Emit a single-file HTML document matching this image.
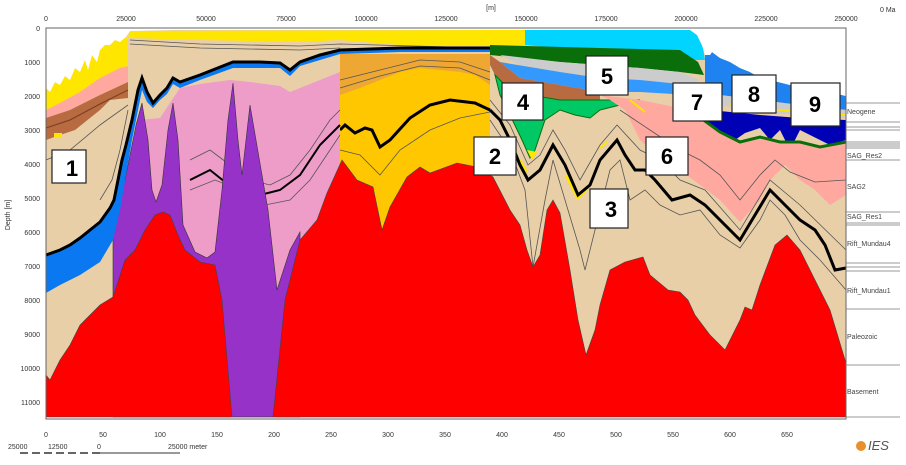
<!DOCTYPE html>
<html><head><meta charset="utf-8"><style>
html,body{margin:0;padding:0;background:#fff;}
svg{display:block;font-family:"Liberation Sans",sans-serif;}
.box{fill:#fff;stroke:#222;stroke-width:1.2;}
.num{font-weight:bold;font-size:22px;fill:#000;text-anchor:middle;}
.ax{font-size:7px;fill:#333;}
.lg{font-size:7px;fill:#444;}
.thin{fill:none;stroke:#555;stroke-width:0.8;}
</style></head><body>
<svg width="906" height="465" viewBox="0 0 906 465">
<rect x="0" y="0" width="906" height="465" fill="#fff"/>
<rect x="46" y="28" width="800" height="389" fill="#e8cfa8"/>
<polygon points="340,54 490,54 490,200 340,200" fill="#eea732"/>
<polygon points="340,95 360,88 380,80 400,72 420,68 440,70 460,72 475,75 490,85 490,230 340,230" fill="#ffc700"/>
<polyline class="thin" points="340,80 380,70 420,60 460,62 490,72"/>
<polyline class="thin" points="340,88 380,76 420,66 460,68 490,80"/>
<polyline class="thin" points="340,150 360,155 380,175 400,150 430,130 460,118 490,112"/>
<polyline points="340,130 345,125 355,133 365,128 372,130 380,147 390,140 410,118 430,105 450,100 475,103 490,110" fill="none" stroke="#000" stroke-width="3"/>
<polygon points="113,230 125,190 135,140 140,120 160,118 180,88 200,84 230,80 250,82 280,86 290,92 300,88 320,80 340,72 340,417 113,417" fill="#ee9cc8"/>
<polyline class="thin" points="190,160 210,150 230,165 250,180 270,185 290,175 310,150 330,120 340,110"/>
<polyline points="190,180 210,170 225,182 240,175 260,195 280,190 300,175 320,145 340,125" fill="none" stroke="#000" stroke-width="2"/>
<polyline class="thin" points="190,190 215,180 240,190 265,205 290,200 310,180 330,150 340,135"/>
<polygon points="113,300 113,225 125,180 136,125 142,103 148,140 152,190 156,202 162,185 168,130 173,103 178,140 183,225 195,252 207,258 215,252 222,190 228,120 233,83 238,140 242,175 246,140 250,105 256,140 262,175 268,210 277,290 290,250 300,232 300,417 113,417" fill="#9632c8" stroke="#333" stroke-width="0.6"/>
<polygon points="46,88 50,92 55,82 60,85 65,76 70,80 75,68 80,72 85,60 88,70 92,55 97,62 100,50 105,45 110,45 115,40 120,42 126,37 128,37 128,66 120,68 100,78 80,92 60,103 46,110" fill="#ffe600"/>
<polygon points="46,110 60,103 80,92 100,78 120,68 128,66 128,82 100,95 70,110 46,118" fill="#ffa8a0"/>
<polygon points="46,118 70,110 100,95 128,82 128,98 110,100 100,110 90,118 75,130 60,135 46,140" fill="#b86a40"/>
<polyline points="46,128 70,120 100,104 128,90" fill="none" stroke="#7a3e20" stroke-width="1"/>
<rect x="54" y="133" width="8" height="5" fill="#ffe600"/>
<polyline class="thin" points="46,160 70,150 100,125 128,105"/>
<polyline class="thin" points="100,200 112,180 120,150 128,110"/>
<polygon points="128,37 130,31 525,30 525,50 490,45 400,45 340,40 300,42 200,40 130,38" fill="#ffe600"/>
<polyline class="thin" points="130,40 200,44 300,46 340,44 490,48"/>
<polyline class="thin" points="130,44 200,48 300,50 340,48"/>
<polygon points="46,255 60,250 70,245 80,238 100,222 110,208 114,200 118,180 122,160 126,145 132,120 138,90 142,78 147,92 153,103 160,95 167,88 173,78 180,82 200,75 233,62 260,62 280,63 290,70 300,62 320,55 340,50 400,48 490,48 490,52 400,52 340,54 320,60 300,66 290,76 280,68 260,68 233,68 200,80 180,88 173,84 167,94 160,100 153,108 147,102 142,90 138,110 132,140 126,175 120,210 113,240 100,262 80,275 60,285 46,293" fill="#0a78f0"/>
<polyline points="46,255 60,250 70,245 80,238 100,222 110,208 114,200 118,180 122,160 126,145 132,120 138,90 142,78 147,92 153,103 160,95 167,88 173,78 180,82 200,75 233,62 260,62 280,63 290,70 300,62 320,55 340,50 400,48 490,48" fill="none" stroke="#000" stroke-width="3"/>
<polygon points="525,30 690,30 697,35 703,48 705,60 690,60 525,45" fill="#00d4ff"/>
<polygon points="490,45 600,48 680,50 698,62 704,75 680,72 640,68 600,65 560,62 520,58 490,55" fill="#0a6e0a"/>
<polygon points="500,55 560,62 640,68 680,72 700,80 690,85 640,80 600,78 560,72 520,65" fill="#cccccc"/>
<polygon points="500,62 560,72 600,78 640,80 690,85 700,90 690,95 640,92 600,92 560,85 520,78" fill="#3399ff"/>
<polygon points="490,55 500,62 520,78 560,85 600,92 600,100 560,100 530,95 510,90 495,75 490,65" fill="#b86a40"/>
<polygon points="495,75 510,90 530,95 560,100 600,100 640,100 620,105 600,110 590,118 575,115 560,110 545,120 535,150 530,158 522,140 510,115 500,95" fill="#00c864" stroke="#0a6e0a" stroke-width="1"/>
<polygon points="527,150 532,160 537,152" fill="#ffe600"/>
<polygon points="705,55 710,55 712,52 720,58 730,62 740,68 750,72 760,78 770,80 790,85 820,90 846,96 846,110 800,105 760,100 720,95 705,90" fill="#1e82f0"/>
<polygon points="720,95 760,100 800,105 846,110 846,118 800,115 760,112 720,105 705,95" fill="#cccccc"/>
<polygon points="690,100 710,110 730,112 760,115 800,118 846,120 846,140 830,145 820,140 810,135 800,130 790,150 780,130 770,140 760,128 745,133 735,140 725,135 715,130 705,120 690,110" fill="#0000b4"/>
<polyline points="730,105 760,108 800,112 846,115" fill="none" stroke="#ffe600" stroke-width="1.5"/>
<polygon points="600,95 640,100 680,108 700,115 720,132 740,142 760,137 780,142 800,142 820,147 846,142 846,195 830,205 815,190 800,180 785,165 770,180 760,200 740,222 720,200 700,185 680,170 660,158 640,140 625,110 610,100" fill="#ffa8a0"/>
<polyline points="690,110 720,132 740,142 760,137 780,142 800,142 820,147 846,142" fill="none" stroke="#0a6e0a" stroke-width="3"/>
<polyline class="thin" points="620,110 650,130 680,150 700,160 720,175 740,200 760,175 775,160 790,172 815,182 846,180"/>
<polyline class="thin" points="490,120 510,150 525,190 533,267 545,200 553,160 565,200 580,250 585,270 595,230 610,170 620,160 630,200 645,190 660,205 680,215 700,210 720,235 740,248 760,220 770,200 785,215 800,240 820,260 846,290"/>
<polyline class="thin" points="490,100 510,125 528,165 540,155 553,130 565,150 580,180 600,145 617,125 640,150 660,160 680,180 705,190 740,230 770,180 800,205 846,250"/>
<polyline points="566,175 578,198 586,190" fill="none" stroke="#ffe600" stroke-width="3"/>
<polyline points="520,160 527,172" fill="none" stroke="#ffe600" stroke-width="2"/>
<polyline points="600,148 607,142" fill="none" stroke="#ffe600" stroke-width="2"/>
<polyline points="630,100 640,108 645,112" fill="none" stroke="#ffe600" stroke-width="2"/>
<polyline points="490,110 500,120 510,140 520,165 528,180 540,170 553,145 565,165 578,195 590,185 600,160 617,140 625,155 635,170 645,170 655,180 672,200 690,195 705,205 720,220 740,240 755,215 770,190 785,205 800,220 815,230 825,245 835,270 846,268" fill="none" stroke="#000" stroke-width="3"/>
<polygon points="46,375 50,380 60,360 70,345 80,325 90,315 100,305 113,297 125,260 135,250 145,230 155,215 163,212 170,215 178,235 185,250 200,262 215,265 222,300 232,417 273,417 285,300 300,240 317,220 327,193 342,160 357,180 373,187 382,230 390,207 407,177 420,167 430,173 457,163 477,167 493,177 510,210 520,225 527,250 533,267 540,255 547,210 553,200 560,213 570,270 578,320 586,355 595,330 600,305 610,270 625,262 643,257 650,275 668,290 680,292 688,300 695,315 710,335 725,350 740,320 745,307 752,310 760,285 775,245 787,235 800,250 815,280 830,310 846,363 846,417 46,417" fill="#ff0000" stroke="#444" stroke-width="0.6"/>
<polygon points="46,28 46,88 50,92 55,82 60,85 65,76 70,80 75,68 80,72 85,60 88,70 92,55 97,62 100,50 105,45 110,45 115,40 120,42 126,37 130,31 175,30 690,30 697,35 702,45 705,55 710,55 712,52 720,58 730,62 740,68 750,72 760,78 770,80 790,85 820,90 846,96 846,28" fill="#fff"/>
<rect x="46" y="28" width="800" height="391" fill="none" stroke="#666" stroke-width="1"/>
<g class="ax" text-anchor="middle">
<text x="46" y="21">0</text><text x="126" y="21">25000</text><text x="206" y="21">50000</text><text x="286" y="21">75000</text><text x="366" y="21">100000</text><text x="446" y="21">125000</text><text x="526" y="21">150000</text><text x="606" y="21">175000</text><text x="686" y="21">200000</text><text x="766" y="21">225000</text><text x="846" y="21">250000</text>
<text x="491" y="10">[m]</text>
</g>
<text x="880" y="12" class="ax">0 Ma</text>
<g class="ax" text-anchor="end">
<text x="40" y="31">0</text><text x="40" y="65">1000</text><text x="40" y="99">2000</text><text x="40" y="133">3000</text><text x="40" y="167">4000</text><text x="40" y="201">5000</text><text x="40" y="235">6000</text><text x="40" y="269">7000</text><text x="40" y="303">8000</text><text x="40" y="337">9000</text><text x="40" y="371">10000</text><text x="40" y="405">11000</text>
</g>
<text x="10" y="215" class="ax" transform="rotate(-90 10 215)" text-anchor="middle">Depth [m]</text>
<g class="ax" text-anchor="middle">
<text x="46" y="437">0</text><text x="103" y="437">50</text><text x="160" y="437">100</text><text x="217" y="437">150</text><text x="274" y="437">200</text><text x="331" y="437">250</text><text x="388" y="437">300</text><text x="445" y="437">350</text><text x="502" y="437">400</text><text x="559" y="437">450</text><text x="616" y="437">500</text><text x="673" y="437">550</text><text x="730" y="437">600</text><text x="787" y="437">650</text>
</g>
<g class="ax"><text x="8" y="449">25000</text><text x="48" y="449">12500</text><text x="97" y="449">0</text><text x="168" y="449">25000 meter</text></g>
<line x1="20" y1="453" x2="100" y2="453" stroke="#333" stroke-width="1.5" stroke-dasharray="8,4"/>
<line x1="100" y1="453" x2="180" y2="453" stroke="#333" stroke-width="1"/>
<circle cx="861" cy="446" r="5" fill="#e8902c"/>
<text x="868" y="450" font-size="13" font-style="italic" fill="#555">IES</text>
<g stroke="#777" stroke-width="0.8">
<line x1="846" y1="103" x2="900" y2="103"/><line x1="846" y1="122" x2="900" y2="122"/><line x1="846" y1="127" x2="900" y2="127"/><line x1="846" y1="130" x2="900" y2="130"/><line x1="846" y1="142" x2="900" y2="142"/><line x1="846" y1="144" x2="900" y2="144"/><line x1="846" y1="146" x2="900" y2="146"/><line x1="846" y1="148" x2="900" y2="148"/><line x1="846" y1="160" x2="900" y2="160"/><line x1="846" y1="212" x2="900" y2="212"/><line x1="846" y1="223" x2="900" y2="223"/><line x1="846" y1="225" x2="900" y2="225"/><line x1="846" y1="263" x2="900" y2="263"/><line x1="846" y1="267" x2="900" y2="267"/><line x1="846" y1="271" x2="900" y2="271"/><line x1="846" y1="309" x2="900" y2="309"/><line x1="846" y1="365" x2="900" y2="365"/><line x1="846" y1="417" x2="900" y2="417"/>
</g>
<g class="lg">
<text x="847" y="114">Neogene</text><text x="847" y="158">SAG_Res2</text><text x="847" y="189">SAG2</text><text x="847" y="219">SAG_Res1</text><text x="847" y="246">Rift_Mundau4</text><text x="847" y="293">Rift_Mundau1</text><text x="847" y="339">Paleozoic</text><text x="847" y="394">Basement</text>
</g>
<rect class="box" x="52" y="150" width="34" height="33"/><text class="num" x="72" y="176">1</text>
<rect class="box" x="474" y="137" width="42" height="38"/><text class="num" x="495" y="164">2</text>
<rect class="box" x="590" y="189" width="38" height="39"/><text class="num" x="611" y="217">3</text>
<rect class="box" x="502" y="83" width="41" height="37"/><text class="num" x="523" y="110">4</text>
<rect class="box" x="586" y="56" width="42" height="39"/><text class="num" x="607" y="84">5</text>
<rect class="box" x="646" y="137" width="42" height="38"/><text class="num" x="667" y="164">6</text>
<rect class="box" x="673" y="83" width="49" height="38"/><text class="num" x="697" y="110">7</text>
<rect class="box" x="732" y="75" width="44" height="38"/><text class="num" x="754" y="102">8</text>
<rect class="box" x="791" y="83" width="49" height="43"/><text class="num" x="815" y="112">9</text>
</svg>
</body></html>
